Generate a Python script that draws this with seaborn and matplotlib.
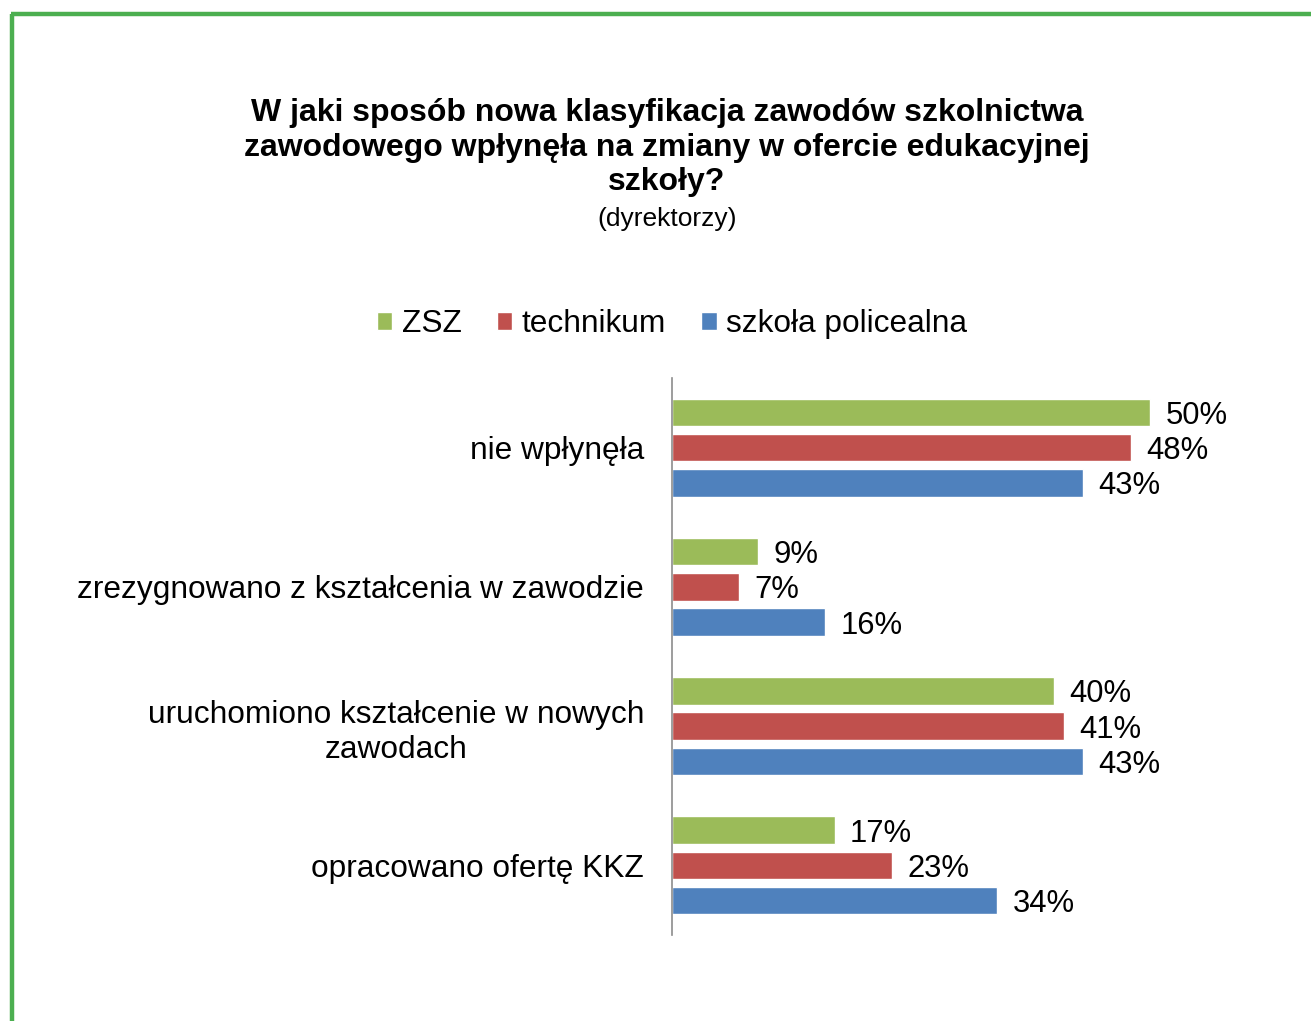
import numpy as np
import pandas as pd
import seaborn as sns
import matplotlib.pyplot as plt
from matplotlib.lines import Line2D

sns.set_theme(style="white")
plt.rcParams["font.family"] = ["Liberation Sans", "DejaVu Sans"]
plt.rcParams["text.color"] = "#000000"

categories = [
    "nie wpłynęła",
    "zrezygnowano z kształcenia w zawodzie",
    "uruchomiono kształcenie w nowych\nzawodach",
    "opracowano ofertę KKZ",
]
series = ["ZSZ", "technikum", "szkoła policealna"]
zsz = [50, 9, 40, 17]
technikum = [48, 7, 41, 23]
policealna = [43, 16, 43, 34]
colors = ["#9BBB59", "#C0504D", "#4F81BD"]

df = pd.DataFrame({
    "kategoria": categories * 3,
    "typ": [s for s in series for _ in categories],
    "procent": zsz + technikum + policealna,
})

W, H = 1311, 1021
fig = plt.figure(figsize=(W / 100, H / 100), dpi=100)

ax_left, ax_top, ax_bottom = 672, 378, 935
px_per_pct = 9.56
xmax = 60
ax = fig.add_axes([ax_left / W, 1 - ax_bottom / H, xmax * px_per_pct / W, (ax_bottom - ax_top) / H])

sns.barplot(data=df, y="kategoria", x="procent", hue="typ", order=categories,
            hue_order=series, palette=colors, orient="h", width=0.76, gap=0.22,
            saturation=1, ax=ax, legend=True)

ax.set_xlim(0, xmax)
ax.set_ylim(3.5, -0.5)
ax.set_xlabel("")
ax.set_ylabel("")
ax.set_xticks([])
for side in ["top", "right", "bottom"]:
    ax.spines[side].set_visible(False)
ax.spines["left"].set_color("#8C8C8C")
ax.spines["left"].set_linewidth(1.2)
ax.tick_params(axis="y", length=0, pad=20, labelsize=22.8, labelcolor="#000000")
for lbl in ax.get_yticklabels():
    lbl.set_multialignment("center")
    lbl.set_linespacing(1.22)

for cont in ax.containers:
    labels = ax.bar_label(cont, labels=[f"{v:.0f}%" for v in cont.datavalues],
                          padding=11, fontsize=22.3, color="#000000")
    for t in labels:
        t.set_y(t.get_position()[1])
        t.set_va("center_baseline")

handles, labels = ax.get_legend_handles_labels()
ax.get_legend().remove()
fig.legend(handles, labels, loc="center", bbox_to_anchor=(672 / W, 1 - 324 / H),
           ncol=3, frameon=False, fontsize=22.8, handlelength=0.5, handleheight=0.5,
           handletextpad=0.3, columnspacing=1.1)

fig.text(667 / W, 1 - 98 / H,
         "W jaki sposób nowa klasyfikacja zawodów szkolnictwa\n"
         "zawodowego wpłynęła na zmiany w ofercie edukacyjnej\nszkoły?",
         ha="center", va="top", fontsize=23, fontweight="bold", linespacing=1.2)
fig.text(667 / W, 1 - 219 / H, "(dyrektorzy)", ha="center", va="center", fontsize=19)

border = "#4CAF50"
fig.add_artist(Line2D([12 / W, 12 / W], [0, 1 - 14 / H], color=border, lw=3.2,
                      transform=fig.transFigure, solid_capstyle="butt"))
fig.add_artist(Line2D([10.5 / W, 1], [1 - 14 / H, 1 - 14 / H], color=border, lw=3.2,
                      transform=fig.transFigure, solid_capstyle="butt"))

fig.savefig("out.png", dpi=100)
